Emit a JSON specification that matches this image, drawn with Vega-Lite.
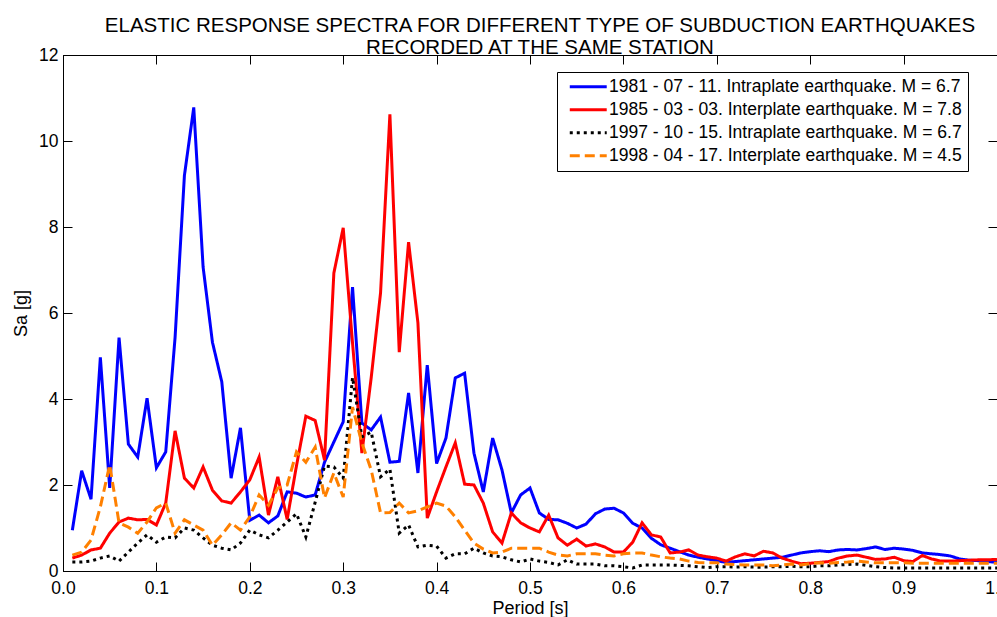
{
  "$schema": "https://vega.github.io/schema/vega-lite/v6.json",
  "width": 934,
  "height": 516,
  "autosize": {"type": "none"},
  "padding": {"left": 63, "top": 55, "right": 0, "bottom": 46},
  "background": "white",
  "config": {
    "font": "Liberation Sans",
    "view": {"stroke": "black", "strokeWidth": 1},
    "axis": {
      "grid": false,
      "domainColor": "black",
      "tickColor": "black",
      "labelColor": "black",
      "titleColor": "black",
      "labelFont": "Liberation Sans",
      "titleFont": "Liberation Sans",
      "labelFontSize": 17.5,
      "titleFontSize": 18,
      "titleFontWeight": "normal",
      "tickSize": -9,
      "tickWidth": 1,
      "labelFlush": false,
      "labelOverlap": false
    }
  },
  "title": {
    "text": ["ELASTIC RESPONSE SPECTRA FOR DIFFERENT TYPE OF SUBDUCTION EARTHQUAKES", "RECORDED AT THE SAME STATION"],
    "fontSize": 20.5,
    "fontWeight": "normal",
    "font": "Liberation Sans",
    "color": "black",
    "lineHeight": 22,
    "offset": -12,
    "dx": 10
  },
  "datasets": {
    "names": [
      {"e": "1981", "quake": "1981 - 07 - 11. Intraplate earthquake. M = 6.7"},
      {"e": "1985", "quake": "1985 - 03 - 03. Interplate earthquake. M = 7.8"},
      {"e": "1997", "quake": "1997 - 10 - 15. Intraplate earthquake. M = 6.7"},
      {"e": "1998", "quake": "1998 - 04 - 17. Interplate earthquake. M = 4.5"}
    ],
    "spectra": [
      {"e":"1981","T":0.01,"Sa":0.95},{"e":"1981","T":0.02,"Sa":2.33},{"e":"1981","T":0.03,"Sa":1.67},{"e":"1981","T":0.04,"Sa":4.97},{"e":"1981","T":0.05,"Sa":1.93},
      {"e":"1981","T":0.06,"Sa":5.43},{"e":"1981","T":0.07,"Sa":2.95},{"e":"1981","T":0.08,"Sa":2.65},{"e":"1981","T":0.09,"Sa":4.02},{"e":"1981","T":0.10,"Sa":2.4},
      {"e":"1981","T":0.11,"Sa":2.77},{"e":"1981","T":0.12,"Sa":5.43},{"e":"1981","T":0.13,"Sa":9.2},{"e":"1981","T":0.14,"Sa":10.78},{"e":"1981","T":0.15,"Sa":7.07},
      {"e":"1981","T":0.16,"Sa":5.32},{"e":"1981","T":0.17,"Sa":4.4},{"e":"1981","T":0.18,"Sa":2.16},{"e":"1981","T":0.19,"Sa":3.33},{"e":"1981","T":0.20,"Sa":1.18},
      {"e":"1981","T":0.21,"Sa":1.3},{"e":"1981","T":0.22,"Sa":1.12},{"e":"1981","T":0.23,"Sa":1.28},{"e":"1981","T":0.24,"Sa":1.84},{"e":"1981","T":0.25,"Sa":1.81},
      {"e":"1981","T":0.26,"Sa":1.72},{"e":"1981","T":0.27,"Sa":1.77},{"e":"1981","T":0.28,"Sa":2.53},{"e":"1981","T":0.29,"Sa":3.0},{"e":"1981","T":0.30,"Sa":3.47},
      {"e":"1981","T":0.31,"Sa":6.6},{"e":"1981","T":0.32,"Sa":3.44},{"e":"1981","T":0.33,"Sa":3.28},{"e":"1981","T":0.34,"Sa":3.58},{"e":"1981","T":0.35,"Sa":2.53},
      {"e":"1981","T":0.36,"Sa":2.55},{"e":"1981","T":0.37,"Sa":4.14},{"e":"1981","T":0.38,"Sa":2.28},{"e":"1981","T":0.39,"Sa":4.79},{"e":"1981","T":0.40,"Sa":2.5},
      {"e":"1981","T":0.41,"Sa":3.09},{"e":"1981","T":0.42,"Sa":4.49},{"e":"1981","T":0.43,"Sa":4.6},{"e":"1981","T":0.44,"Sa":2.74},{"e":"1981","T":0.45,"Sa":1.84},
      {"e":"1981","T":0.46,"Sa":3.09},{"e":"1981","T":0.47,"Sa":2.35},{"e":"1981","T":0.48,"Sa":1.35},{"e":"1981","T":0.49,"Sa":1.77},{"e":"1981","T":0.50,"Sa":1.93},
      {"e":"1981","T":0.51,"Sa":1.35},{"e":"1981","T":0.52,"Sa":1.2},{"e":"1981","T":0.53,"Sa":1.19},{"e":"1981","T":0.54,"Sa":1.11},{"e":"1981","T":0.55,"Sa":1.0},
      {"e":"1981","T":0.56,"Sa":1.09},{"e":"1981","T":0.57,"Sa":1.33},{"e":"1981","T":0.58,"Sa":1.44},{"e":"1981","T":0.59,"Sa":1.46},{"e":"1981","T":0.60,"Sa":1.35},
      {"e":"1981","T":0.61,"Sa":1.11},{"e":"1981","T":0.62,"Sa":1.0},{"e":"1981","T":0.63,"Sa":0.76},{"e":"1981","T":0.64,"Sa":0.61},{"e":"1981","T":0.65,"Sa":0.53},
      {"e":"1981","T":0.66,"Sa":0.45},{"e":"1981","T":0.67,"Sa":0.37},{"e":"1981","T":0.68,"Sa":0.32},{"e":"1981","T":0.69,"Sa":0.28},{"e":"1981","T":0.70,"Sa":0.24},
      {"e":"1981","T":0.71,"Sa":0.2},{"e":"1981","T":0.72,"Sa":0.22},{"e":"1981","T":0.73,"Sa":0.24},{"e":"1981","T":0.74,"Sa":0.26},{"e":"1981","T":0.75,"Sa":0.28},
      {"e":"1981","T":0.76,"Sa":0.3},{"e":"1981","T":0.77,"Sa":0.32},{"e":"1981","T":0.78,"Sa":0.37},{"e":"1981","T":0.79,"Sa":0.42},{"e":"1981","T":0.80,"Sa":0.45},
      {"e":"1981","T":0.81,"Sa":0.47},{"e":"1981","T":0.82,"Sa":0.45},{"e":"1981","T":0.83,"Sa":0.49},{"e":"1981","T":0.84,"Sa":0.5},{"e":"1981","T":0.85,"Sa":0.49},
      {"e":"1981","T":0.86,"Sa":0.52},{"e":"1981","T":0.87,"Sa":0.56},{"e":"1981","T":0.88,"Sa":0.5},{"e":"1981","T":0.89,"Sa":0.53},{"e":"1981","T":0.90,"Sa":0.51},
      {"e":"1981","T":0.91,"Sa":0.48},{"e":"1981","T":0.92,"Sa":0.42},{"e":"1981","T":0.93,"Sa":0.4},{"e":"1981","T":0.94,"Sa":0.38},{"e":"1981","T":0.95,"Sa":0.35},
      {"e":"1981","T":0.96,"Sa":0.28},{"e":"1981","T":0.97,"Sa":0.25},{"e":"1981","T":0.98,"Sa":0.24},{"e":"1981","T":0.99,"Sa":0.22},{"e":"1981","T":1.00,"Sa":0.2},

      {"e":"1985","T":0.01,"Sa":0.3},{"e":"1985","T":0.02,"Sa":0.37},{"e":"1985","T":0.03,"Sa":0.49},{"e":"1985","T":0.04,"Sa":0.53},{"e":"1985","T":0.05,"Sa":0.88},
      {"e":"1985","T":0.06,"Sa":1.14},{"e":"1985","T":0.07,"Sa":1.23},{"e":"1985","T":0.08,"Sa":1.19},{"e":"1985","T":0.09,"Sa":1.2},{"e":"1985","T":0.10,"Sa":1.07},
      {"e":"1985","T":0.11,"Sa":1.58},{"e":"1985","T":0.12,"Sa":3.26},{"e":"1985","T":0.13,"Sa":2.16},{"e":"1985","T":0.14,"Sa":1.93},{"e":"1985","T":0.15,"Sa":2.42},
      {"e":"1985","T":0.16,"Sa":1.88},{"e":"1985","T":0.17,"Sa":1.63},{"e":"1985","T":0.18,"Sa":1.58},{"e":"1985","T":0.19,"Sa":1.84},{"e":"1985","T":0.20,"Sa":2.12},
      {"e":"1985","T":0.21,"Sa":2.65},{"e":"1985","T":0.22,"Sa":1.3},{"e":"1985","T":0.23,"Sa":2.19},{"e":"1985","T":0.24,"Sa":1.2},{"e":"1985","T":0.25,"Sa":2.45},
      {"e":"1985","T":0.26,"Sa":3.6},{"e":"1985","T":0.27,"Sa":3.5},{"e":"1985","T":0.28,"Sa":2.58},{"e":"1985","T":0.29,"Sa":6.93},{"e":"1985","T":0.30,"Sa":7.98},
      {"e":"1985","T":0.31,"Sa":5.3},{"e":"1985","T":0.32,"Sa":2.74},{"e":"1985","T":0.33,"Sa":4.5},{"e":"1985","T":0.34,"Sa":6.47},{"e":"1985","T":0.35,"Sa":10.62},
      {"e":"1985","T":0.36,"Sa":5.09},{"e":"1985","T":0.37,"Sa":7.65},{"e":"1985","T":0.38,"Sa":5.77},{"e":"1985","T":0.39,"Sa":1.23},{"e":"1985","T":0.40,"Sa":1.84},
      {"e":"1985","T":0.41,"Sa":2.42},{"e":"1985","T":0.42,"Sa":2.98},{"e":"1985","T":0.43,"Sa":2.02},{"e":"1985","T":0.44,"Sa":2.0},{"e":"1985","T":0.45,"Sa":1.58},
      {"e":"1985","T":0.46,"Sa":0.91},{"e":"1985","T":0.47,"Sa":0.65},{"e":"1985","T":0.48,"Sa":1.35},{"e":"1985","T":0.49,"Sa":1.12},{"e":"1985","T":0.50,"Sa":1.0},
      {"e":"1985","T":0.51,"Sa":0.91},{"e":"1985","T":0.52,"Sa":1.3},{"e":"1985","T":0.53,"Sa":0.77},{"e":"1985","T":0.54,"Sa":0.6},{"e":"1985","T":0.55,"Sa":0.74},
      {"e":"1985","T":0.56,"Sa":0.58},{"e":"1985","T":0.57,"Sa":0.63},{"e":"1985","T":0.58,"Sa":0.56},{"e":"1985","T":0.59,"Sa":0.44},{"e":"1985","T":0.60,"Sa":0.44},
      {"e":"1985","T":0.61,"Sa":0.67},{"e":"1985","T":0.62,"Sa":1.12},{"e":"1985","T":0.63,"Sa":0.84},{"e":"1985","T":0.64,"Sa":0.79},{"e":"1985","T":0.65,"Sa":0.42},
      {"e":"1985","T":0.66,"Sa":0.44},{"e":"1985","T":0.67,"Sa":0.49},{"e":"1985","T":0.68,"Sa":0.37},{"e":"1985","T":0.69,"Sa":0.33},{"e":"1985","T":0.70,"Sa":0.3},
      {"e":"1985","T":0.71,"Sa":0.23},{"e":"1985","T":0.72,"Sa":0.33},{"e":"1985","T":0.73,"Sa":0.4},{"e":"1985","T":0.74,"Sa":0.35},{"e":"1985","T":0.75,"Sa":0.46},
      {"e":"1985","T":0.76,"Sa":0.42},{"e":"1985","T":0.77,"Sa":0.3},{"e":"1985","T":0.78,"Sa":0.23},{"e":"1985","T":0.79,"Sa":0.17},{"e":"1985","T":0.80,"Sa":0.18},
      {"e":"1985","T":0.81,"Sa":0.2},{"e":"1985","T":0.82,"Sa":0.22},{"e":"1985","T":0.83,"Sa":0.3},{"e":"1985","T":0.84,"Sa":0.35},{"e":"1985","T":0.85,"Sa":0.37},
      {"e":"1985","T":0.86,"Sa":0.32},{"e":"1985","T":0.87,"Sa":0.27},{"e":"1985","T":0.88,"Sa":0.28},{"e":"1985","T":0.89,"Sa":0.32},{"e":"1985","T":0.90,"Sa":0.24},
      {"e":"1985","T":0.91,"Sa":0.22},{"e":"1985","T":0.92,"Sa":0.36},{"e":"1985","T":0.93,"Sa":0.28},{"e":"1985","T":0.94,"Sa":0.23},{"e":"1985","T":0.95,"Sa":0.23},
      {"e":"1985","T":0.96,"Sa":0.24},{"e":"1985","T":0.97,"Sa":0.25},{"e":"1985","T":0.98,"Sa":0.26},{"e":"1985","T":0.99,"Sa":0.26},{"e":"1985","T":1.00,"Sa":0.27},

      {"e":"1997","T":0.01,"Sa":0.21},{"e":"1997","T":0.02,"Sa":0.21},{"e":"1997","T":0.03,"Sa":0.23},{"e":"1997","T":0.04,"Sa":0.3},{"e":"1997","T":0.05,"Sa":0.35},
      {"e":"1997","T":0.06,"Sa":0.23},{"e":"1997","T":0.07,"Sa":0.44},{"e":"1997","T":0.08,"Sa":0.65},{"e":"1997","T":0.09,"Sa":0.84},{"e":"1997","T":0.10,"Sa":0.67},
      {"e":"1997","T":0.11,"Sa":0.79},{"e":"1997","T":0.12,"Sa":0.77},{"e":"1997","T":0.13,"Sa":1.0},{"e":"1997","T":0.14,"Sa":0.95},{"e":"1997","T":0.15,"Sa":0.77},
      {"e":"1997","T":0.16,"Sa":0.6},{"e":"1997","T":0.17,"Sa":0.53},{"e":"1997","T":0.18,"Sa":0.49},{"e":"1997","T":0.19,"Sa":0.65},{"e":"1997","T":0.20,"Sa":0.95},
      {"e":"1997","T":0.21,"Sa":0.84},{"e":"1997","T":0.22,"Sa":0.77},{"e":"1997","T":0.23,"Sa":0.95},{"e":"1997","T":0.24,"Sa":1.14},{"e":"1997","T":0.25,"Sa":1.33},
      {"e":"1997","T":0.26,"Sa":0.79},{"e":"1997","T":0.27,"Sa":1.6},{"e":"1997","T":0.28,"Sa":2.44},{"e":"1997","T":0.29,"Sa":2.42},{"e":"1997","T":0.30,"Sa":2.16},
      {"e":"1997","T":0.31,"Sa":4.5},{"e":"1997","T":0.32,"Sa":3.12},{"e":"1997","T":0.33,"Sa":3.23},{"e":"1997","T":0.34,"Sa":2.19},{"e":"1997","T":0.35,"Sa":2.37},
      {"e":"1997","T":0.36,"Sa":0.88},{"e":"1997","T":0.37,"Sa":1.07},{"e":"1997","T":0.38,"Sa":0.56},{"e":"1997","T":0.39,"Sa":0.6},{"e":"1997","T":0.40,"Sa":0.58},
      {"e":"1997","T":0.41,"Sa":0.3},{"e":"1997","T":0.42,"Sa":0.4},{"e":"1997","T":0.43,"Sa":0.4},{"e":"1997","T":0.44,"Sa":0.53},{"e":"1997","T":0.45,"Sa":0.42},
      {"e":"1997","T":0.46,"Sa":0.35},{"e":"1997","T":0.47,"Sa":0.33},{"e":"1997","T":0.48,"Sa":0.26},{"e":"1997","T":0.49,"Sa":0.21},{"e":"1997","T":0.50,"Sa":0.28},
      {"e":"1997","T":0.51,"Sa":0.23},{"e":"1997","T":0.52,"Sa":0.2},{"e":"1997","T":0.53,"Sa":0.14},{"e":"1997","T":0.54,"Sa":0.26},{"e":"1997","T":0.55,"Sa":0.16},
      {"e":"1997","T":0.56,"Sa":0.16},{"e":"1997","T":0.57,"Sa":0.16},{"e":"1997","T":0.58,"Sa":0.12},{"e":"1997","T":0.59,"Sa":0.12},{"e":"1997","T":0.60,"Sa":0.1},
      {"e":"1997","T":0.61,"Sa":0.07},{"e":"1997","T":0.62,"Sa":0.14},{"e":"1997","T":0.63,"Sa":0.14},{"e":"1997","T":0.64,"Sa":0.14},{"e":"1997","T":0.65,"Sa":0.14},
      {"e":"1997","T":0.66,"Sa":0.13},{"e":"1997","T":0.67,"Sa":0.12},{"e":"1997","T":0.68,"Sa":0.1},{"e":"1997","T":0.69,"Sa":0.08},{"e":"1997","T":0.70,"Sa":0.1},
      {"e":"1997","T":0.71,"Sa":0.1},{"e":"1997","T":0.72,"Sa":0.09},{"e":"1997","T":0.73,"Sa":0.1},{"e":"1997","T":0.74,"Sa":0.09},{"e":"1997","T":0.75,"Sa":0.09},
      {"e":"1997","T":0.76,"Sa":0.1},{"e":"1997","T":0.77,"Sa":0.1},{"e":"1997","T":0.78,"Sa":0.11},{"e":"1997","T":0.79,"Sa":0.1},{"e":"1997","T":0.80,"Sa":0.1},
      {"e":"1997","T":0.81,"Sa":0.12},{"e":"1997","T":0.82,"Sa":0.12},{"e":"1997","T":0.83,"Sa":0.14},{"e":"1997","T":0.84,"Sa":0.15},{"e":"1997","T":0.85,"Sa":0.16},
      {"e":"1997","T":0.86,"Sa":0.13},{"e":"1997","T":0.87,"Sa":0.1},{"e":"1997","T":0.88,"Sa":0.08},{"e":"1997","T":0.89,"Sa":0.07},{"e":"1997","T":0.90,"Sa":0.07},
      {"e":"1997","T":0.91,"Sa":0.07},{"e":"1997","T":0.92,"Sa":0.07},{"e":"1997","T":0.93,"Sa":0.07},{"e":"1997","T":0.94,"Sa":0.07},{"e":"1997","T":0.95,"Sa":0.07},
      {"e":"1997","T":0.96,"Sa":0.07},{"e":"1997","T":0.97,"Sa":0.07},{"e":"1997","T":0.98,"Sa":0.07},{"e":"1997","T":0.99,"Sa":0.07},{"e":"1997","T":1.00,"Sa":0.07},

      {"e":"1998","T":0.01,"Sa":0.37},{"e":"1998","T":0.02,"Sa":0.44},{"e":"1998","T":0.03,"Sa":0.72},{"e":"1998","T":0.04,"Sa":1.49},{"e":"1998","T":0.05,"Sa":2.47},
      {"e":"1998","T":0.06,"Sa":1.12},{"e":"1998","T":0.07,"Sa":1.02},{"e":"1998","T":0.08,"Sa":0.88},{"e":"1998","T":0.09,"Sa":1.14},{"e":"1998","T":0.10,"Sa":1.47},
      {"e":"1998","T":0.11,"Sa":1.58},{"e":"1998","T":0.12,"Sa":0.88},{"e":"1998","T":0.13,"Sa":1.19},{"e":"1998","T":0.14,"Sa":1.07},{"e":"1998","T":0.15,"Sa":0.95},
      {"e":"1998","T":0.16,"Sa":0.6},{"e":"1998","T":0.17,"Sa":0.84},{"e":"1998","T":0.18,"Sa":1.12},{"e":"1998","T":0.19,"Sa":0.95},{"e":"1998","T":0.20,"Sa":1.26},
      {"e":"1998","T":0.21,"Sa":1.77},{"e":"1998","T":0.22,"Sa":1.53},{"e":"1998","T":0.23,"Sa":1.93},{"e":"1998","T":0.24,"Sa":2.0},{"e":"1998","T":0.25,"Sa":2.77},
      {"e":"1998","T":0.26,"Sa":2.53},{"e":"1998","T":0.27,"Sa":2.88},{"e":"1998","T":0.28,"Sa":1.7},{"e":"1998","T":0.29,"Sa":2.28},{"e":"1998","T":0.30,"Sa":1.72},
      {"e":"1998","T":0.31,"Sa":3.81},{"e":"1998","T":0.32,"Sa":2.98},{"e":"1998","T":0.33,"Sa":2.35},{"e":"1998","T":0.34,"Sa":1.35},{"e":"1998","T":0.35,"Sa":1.36},
      {"e":"1998","T":0.36,"Sa":1.58},{"e":"1998","T":0.37,"Sa":1.35},{"e":"1998","T":0.38,"Sa":1.4},{"e":"1998","T":0.39,"Sa":1.49},{"e":"1998","T":0.40,"Sa":1.58},
      {"e":"1998","T":0.41,"Sa":1.51},{"e":"1998","T":0.42,"Sa":1.26},{"e":"1998","T":0.43,"Sa":0.95},{"e":"1998","T":0.44,"Sa":0.65},{"e":"1998","T":0.45,"Sa":0.51},
      {"e":"1998","T":0.46,"Sa":0.42},{"e":"1998","T":0.47,"Sa":0.44},{"e":"1998","T":0.48,"Sa":0.53},{"e":"1998","T":0.49,"Sa":0.53},{"e":"1998","T":0.50,"Sa":0.53},
      {"e":"1998","T":0.51,"Sa":0.53},{"e":"1998","T":0.52,"Sa":0.44},{"e":"1998","T":0.53,"Sa":0.37},{"e":"1998","T":0.54,"Sa":0.35},{"e":"1998","T":0.55,"Sa":0.4},
      {"e":"1998","T":0.56,"Sa":0.4},{"e":"1998","T":0.57,"Sa":0.4},{"e":"1998","T":0.58,"Sa":0.37},{"e":"1998","T":0.59,"Sa":0.35},{"e":"1998","T":0.60,"Sa":0.4},
      {"e":"1998","T":0.61,"Sa":0.42},{"e":"1998","T":0.62,"Sa":0.42},{"e":"1998","T":0.63,"Sa":0.37},{"e":"1998","T":0.64,"Sa":0.33},{"e":"1998","T":0.65,"Sa":0.3},
      {"e":"1998","T":0.66,"Sa":0.28},{"e":"1998","T":0.67,"Sa":0.23},{"e":"1998","T":0.68,"Sa":0.2},{"e":"1998","T":0.69,"Sa":0.19},{"e":"1998","T":0.70,"Sa":0.19},
      {"e":"1998","T":0.71,"Sa":0.16},{"e":"1998","T":0.72,"Sa":0.15},{"e":"1998","T":0.73,"Sa":0.14},{"e":"1998","T":0.74,"Sa":0.14},{"e":"1998","T":0.75,"Sa":0.14},
      {"e":"1998","T":0.76,"Sa":0.12},{"e":"1998","T":0.77,"Sa":0.14},{"e":"1998","T":0.78,"Sa":0.16},{"e":"1998","T":0.79,"Sa":0.14},{"e":"1998","T":0.80,"Sa":0.17},
      {"e":"1998","T":0.81,"Sa":0.19},{"e":"1998","T":0.82,"Sa":0.18},{"e":"1998","T":0.83,"Sa":0.2},{"e":"1998","T":0.84,"Sa":0.21},{"e":"1998","T":0.85,"Sa":0.23},
      {"e":"1998","T":0.86,"Sa":0.21},{"e":"1998","T":0.87,"Sa":0.19},{"e":"1998","T":0.88,"Sa":0.19},{"e":"1998","T":0.89,"Sa":0.19},{"e":"1998","T":0.90,"Sa":0.19},
      {"e":"1998","T":0.91,"Sa":0.18},{"e":"1998","T":0.92,"Sa":0.18},{"e":"1998","T":0.93,"Sa":0.18},{"e":"1998","T":0.94,"Sa":0.18},{"e":"1998","T":0.95,"Sa":0.18},
      {"e":"1998","T":0.96,"Sa":0.18},{"e":"1998","T":0.97,"Sa":0.18},{"e":"1998","T":0.98,"Sa":0.18},{"e":"1998","T":0.99,"Sa":0.18},{"e":"1998","T":1.00,"Sa":0.18}
    ]
  },
  "data": {"name": "spectra"},
  "transform": [
    {"lookup": "e", "from": {"data": {"name": "names"}, "key": "e", "fields": ["quake"]}}
  ],
  "layer": [
    {
      "mark": {"type": "line", "strokeWidth": 3, "clip": true, "strokeCap": "butt", "strokeJoin": "miter"},
      "encoding": {
        "x": {
          "field": "T", "type": "quantitative",
          "scale": {"domain": [0, 1], "nice": false, "zero": false},
          "axis": {"orient": "bottom", "values": [0, 0.1, 0.2, 0.3, 0.4, 0.5, 0.6, 0.7, 0.8, 0.9, 1], "title": "Period [s]", "labelPadding": 17, "titlePadding": 3}
        },
        "y": {
          "field": "Sa", "type": "quantitative",
          "scale": {"domain": [0, 12], "nice": false},
          "axis": {"orient": "left", "values": [0, 2, 4, 6, 8, 10, 12], "title": "Sa [g]", "labelPadding": 14, "titlePadding": 8}
        },
        "color": {
          "field": "quake", "type": "nominal",
          "scale": {"range": ["#0000ff", "#ff0000", "#000000", "#ff8000"]},
          "legend": {
            "title": null, "orient": "none", "legendX": 494, "legendY": 17,
            "symbolType": "M-3.08,0H3.08", "symbolSize": 144, "symbolStrokeWidth": 3, "symbolOffset": 16.5,
            "labelFontSize": 17.5, "labelColor": "black", "labelFont": "Liberation Sans", "labelLimit": 600,
            "fillColor": "white", "strokeColor": "black", "padding": 6, "rowPadding": 4, "labelOffset": 12
          }
        },
        "strokeDash": {
          "field": "quake", "type": "nominal",
          "scale": {"range": [[1, 0], [1, 0], [3, 4], [10, 5]]},
          "legend": {
            "title": null, "orient": "none", "legendX": 494, "legendY": 17,
            "symbolType": "M-3.08,0H3.08", "symbolSize": 144, "symbolStrokeWidth": 3, "symbolOffset": 16.5,
            "labelFontSize": 17.5, "labelColor": "black", "labelFont": "Liberation Sans", "labelLimit": 600,
            "fillColor": "white", "strokeColor": "black", "padding": 6, "rowPadding": 4, "labelOffset": 12
          }
        }
      }
    },
    {
      "mark": {"type": "point", "opacity": 0},
      "encoding": {
        "x": {"field": "T", "type": "quantitative", "axis": {"orient": "top", "values": [0, 0.1, 0.2, 0.3, 0.4, 0.5, 0.6, 0.7, 0.8, 0.9, 1], "labels": false, "title": null}},
        "y": {"field": "Sa", "type": "quantitative", "axis": {"orient": "right", "values": [0, 2, 4, 6, 8, 10, 12], "labels": false, "title": null}}
      }
    }
  ],
  "resolve": {"axis": {"x": "independent", "y": "independent"}}
}
